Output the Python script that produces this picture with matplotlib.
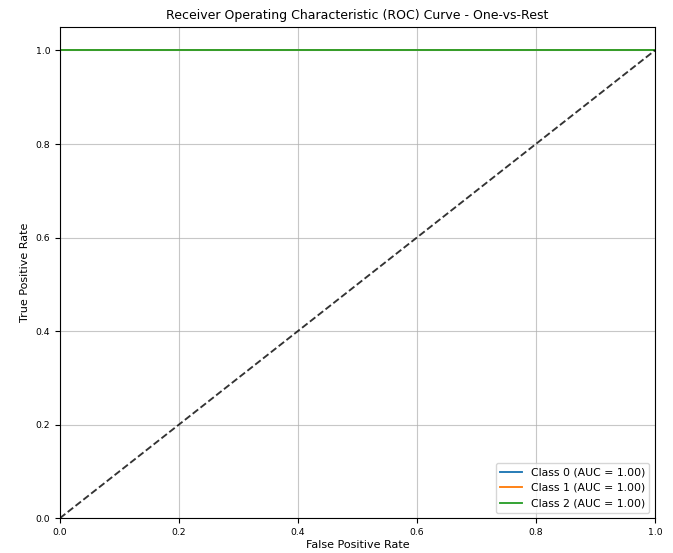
import matplotlib
matplotlib.use("Agg")
import matplotlib.pyplot as plt

# one-vs-rest ROC points per class
class_names = ["Class 0", "Class 1", "Class 2"]
fpr_list = [[0.0, 0.0, 1.0], [0.0, 0.0, 1.0], [0.0, 0.0, 1.0]]
tpr_list = [[0.0, 1.0, 1.0], [0.0, 1.0, 1.0], [0.0, 1.0, 1.0]]
auc_list = [1.00, 1.00, 1.00]

plt.rcParams["font.size"] = 6.7

fig = plt.figure(figsize=(6.73, 5.53), dpi=100)
ax = fig.add_axes([0.089, 0.063, 0.884, 0.888])

for name, fpr, tpr, roc_auc in zip(class_names, fpr_list, tpr_list, auc_list):
    ax.plot(fpr, tpr, lw=1.35, label=f"{name} (AUC = {roc_auc:.2f})")

ax.plot([0, 1], [0, 1], "k--", lw=1.35, alpha=0.8)
ax.set_xlim([0.0, 1.0])
ax.set_ylim([0.0, 1.05])
ax.set_xlabel("False Positive Rate", fontsize=8, labelpad=2)
ax.set_ylabel("True Positive Rate", fontsize=8)
ax.set_title("Receiver Operating Characteristic (ROC) Curve - One-vs-Rest", fontsize=9)
ax.legend(loc="lower right", fontsize=7.8)
ax.grid(True, alpha=0.7)

fig.savefig("out.png", dpi=100)
